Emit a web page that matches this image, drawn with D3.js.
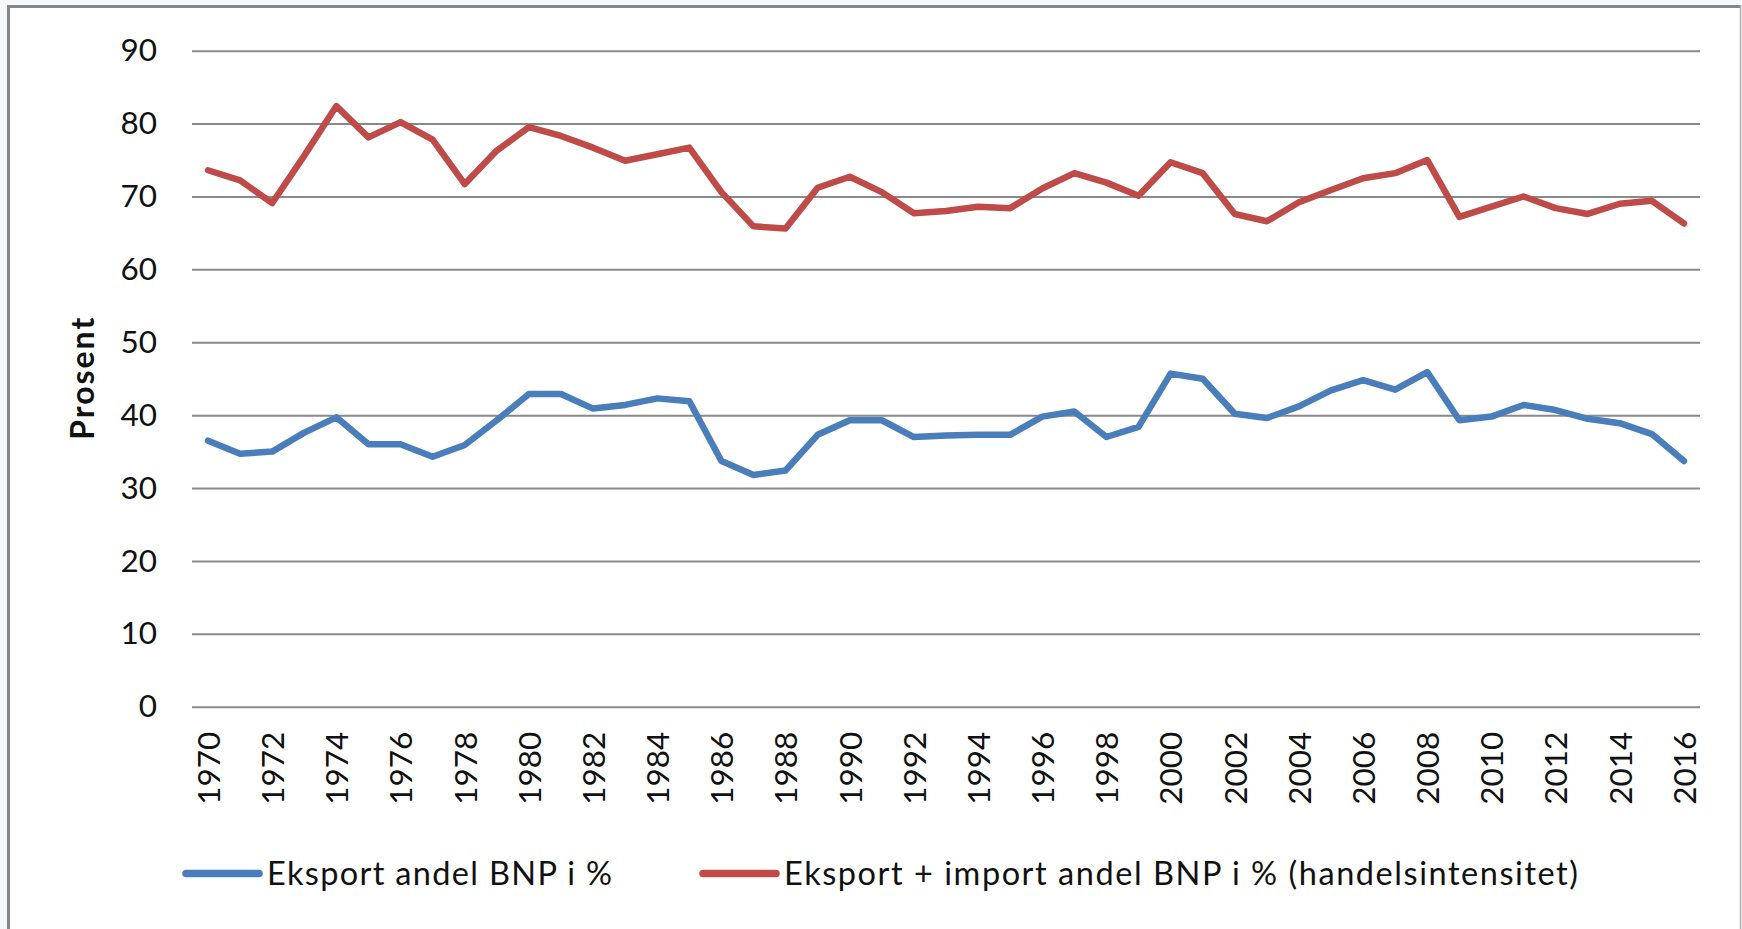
<!DOCTYPE html>
<html>
<head>
<meta charset="utf-8">
<script src="https://cdn.jsdelivr.net/npm/d3@7"></script>
<style>
  html, body { margin: 0; padding: 0; background: #f4f8fa; }
  svg { display: block; }
  text { font-family: Lato, "Open Sans", sans-serif; fill: #111; }
</style>
</head>
<body>
<svg id="chart" width="1742" height="929"></svg>
<script>
// ---- data ----
const years = d3.range(1970, 2017).map(String);
const yTicks = [0, 10, 20, 30, 40, 50, 60, 70, 80, 90];
const xTickLabels = years.filter((d, i) => i % 2 === 0);

const seriesNames = [
  "Eksport andel BNP i %",
  "Eksport + import andel BNP i % (handelsintensitet)"
];
const seriesColors = ["#4a7ebb", "#be4b48"];

const eksport = [
  36.5, 34.7, 35.0, 37.6, 39.7, 36.0, 36.0, 34.3, 35.9, 39.3,
  42.9, 42.9, 40.9, 41.4, 42.3, 41.9, 33.7, 31.8, 32.4, 37.3,
  39.3, 39.3, 37.0, 37.2, 37.3, 37.3, 39.8, 40.5, 37.0, 38.4,
  45.7, 45.0, 40.2, 39.6, 41.2, 43.4, 44.8, 43.5, 45.9, 39.3,
  39.8, 41.4, 40.7, 39.5, 38.9, 37.4, 33.7
];
const handel = [
  73.6, 72.2, 69.1, 75.6, 82.4, 78.1, 80.2, 77.8, 71.7, 76.3,
  79.5, 78.3, 76.7, 74.9, 75.8, 76.7, 70.6, 65.9, 65.6, 71.2,
  72.7, 70.6, 67.7, 68.0, 68.6, 68.4, 71.1, 73.2, 71.9, 70.1,
  74.7, 73.2, 67.6, 66.6, 69.2, 70.9, 72.5, 73.2, 75.0, 67.2,
  68.6, 70.0, 68.4, 67.6, 69.0, 69.4, 66.3
];
const seriesValues = [eksport, handel];

// ---- layout ----
const svg = d3.select("#chart");
const plot = { left: 192, right: 1700, top: 50.7, bottom: 706.7 };

// chart frame
svg.append("rect").attr("x", 8).attr("y", 6).attr("width", 1733).attr("height", 940)
  .attr("fill", "#fff");
svg.append("line").attr("x1", 8.5).attr("x2", 8.5).attr("y1", 5).attr("y2", 929)
  .attr("stroke", "#858585").attr("stroke-width", 3);
svg.append("line").attr("x1", 7).attr("x2", 1741).attr("y1", 6.5).attr("y2", 6.5)
  .attr("stroke", "#858585").attr("stroke-width", 3);
svg.append("line").attr("x1", 1740.5).attr("x2", 1740.5).attr("y1", 5).attr("y2", 929)
  .attr("stroke", "#b0b0b0").attr("stroke-width", 1.5);

const x = d3.scalePoint().domain(years).range([plot.left, plot.right]).padding(0.5);
const y = d3.scaleLinear().domain([0, 90]).range([plot.bottom, plot.top]);

// gridlines + y labels
const yAxis = d3.axisLeft(y).tickValues(yTicks).tickSize(-(plot.right - plot.left)).tickPadding(35);
const gy = svg.append("g").attr("transform", `translate(${plot.left},0)`).call(yAxis);
gy.select(".domain").remove();
gy.selectAll(".tick line").attr("stroke", "#898989").attr("stroke-width", 2);
gy.selectAll(".tick text").attr("font-size", 31.5).attr("fill", "#111")
  .style("font-family", "Lato, sans-serif");

// x labels (rotated)
const xAxis = d3.axisBottom(x).tickValues(xTickLabels).tickSize(0).tickPadding(0);
const gx = svg.append("g").attr("transform", `translate(0,${plot.bottom})`).call(xAxis);
gx.select(".domain").remove();
gx.selectAll(".tick text")
  .attr("font-size", 31.5).attr("fill", "#111")
  .style("font-family", "Lato, sans-serif")
  .attr("text-anchor", "end")
  .attr("transform", "rotate(-90)")
  .attr("x", -25).attr("y", 0).attr("dy", "0.36em");

// y title
svg.append("text")
  .attr("transform", `translate(94,${(plot.top + plot.bottom) / 2}) rotate(-90)`)
  .attr("text-anchor", "middle")
  .attr("font-size", 32).attr("font-weight", "bold")
  .attr("textLength", 122).attr("lengthAdjust", "spacing")
  .text("Prosent");

// lines
const line = d3.line().x((d, i) => x(years[i])).y(d => y(d));
seriesValues.forEach((vals, k) => {
  svg.append("path").datum(vals)
    .attr("d", line)
    .attr("fill", "none")
    .attr("stroke", seriesColors[k])
    .attr("stroke-width", 6.5)
    .attr("stroke-linejoin", "round")
    .attr("stroke-linecap", "round");
});

// legend
const legendX = [183, 700];
const legendTextLen = [345, 794];
seriesNames.forEach((name, k) => {
  const g = svg.append("g").attr("transform", `translate(${legendX[k]},873.5)`);
  g.append("line").attr("x1", 3).attr("x2", 76).attr("y1", 0).attr("y2", 0)
    .attr("stroke", seriesColors[k]).attr("stroke-width", 7.5).attr("stroke-linecap", "round");
  g.append("text").attr("x", 84).attr("dy", "0.36em")
    .attr("font-size", 32.5)
    .attr("textLength", legendTextLen[k]).attr("lengthAdjust", "spacing")
    .text(name);
});
</script>
</body>
</html>
